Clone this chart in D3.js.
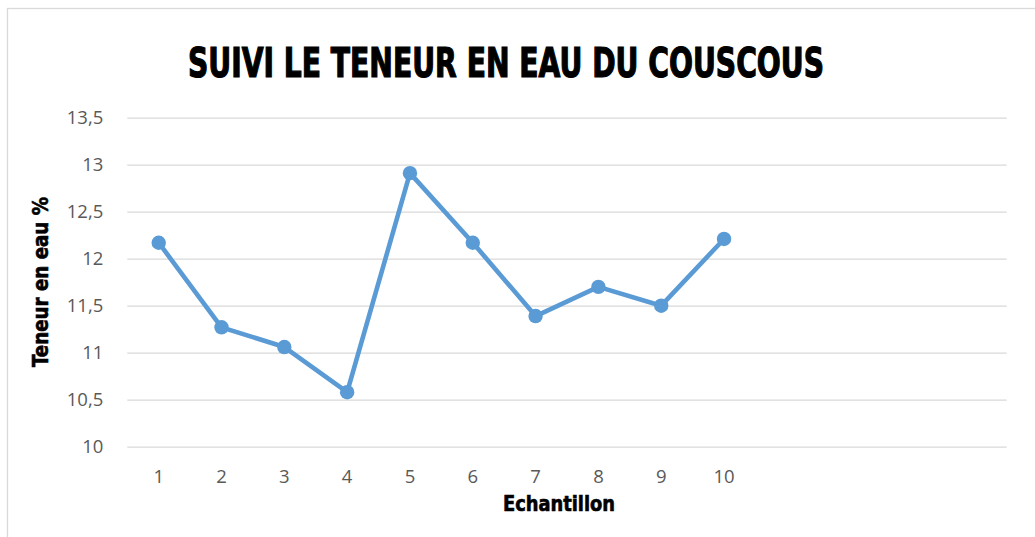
<!DOCTYPE html>
<html>
<head>
<meta charset="utf-8">
<script src="https://cdn.jsdelivr.net/npm/d3@7"></script>
<style>
html,body{margin:0;padding:0;background:#fff;}
svg{display:block;}
</style>
</head>
<body>
<svg id="chart" width="1035" height="537"></svg>
<script>
// ---- data ----
const categories = ["1","2","3","4","5","6","7","8","9","10"];
const emptySlots = ["_11","_12","_13","_14"]; // unlabeled category slots on the axis
const values = [12.17, 11.27, 11.06, 10.58, 12.91, 12.17, 11.39, 11.70, 11.50, 12.21];
const yTicks = [10, 10.5, 11, 11.5, 12, 12.5, 13, 13.5];
const title = "SUIVI LE TENEUR EN EAU DU COUSCOUS";
const yTitle = "Teneur en eau %";
const xTitle = "Echantillon";

// ---- layout ----
const svg = d3.select("#chart");
const W = 1035, H = 537;
const plot = {left: 127.3, right: 1006.7, top: 117.7, bottom: 446.7};
const heavy = "'DejaVu Sans Condensed','DejaVu Sans',sans-serif";
const light = "'Open Sans','Liberation Sans',sans-serif";

svg.append("rect").attr("x", 7.5).attr("y", 8.5).attr("width", W).attr("height", H)
  .attr("fill", "#fff").attr("stroke", "#D9D9D9").attr("stroke-width", 1.3);

const x = d3.scaleBand().domain(categories.concat(emptySlots)).range([plot.left, plot.right]).padding(0);
const y = d3.scaleLinear().domain([10, 13.5]).range([plot.bottom, plot.top]);
const cx = d => x(d) + x.bandwidth() / 2;

// gridlines
const yAxis = d3.axisLeft(y).tickValues(yTicks)
  .tickSize(-(plot.right - plot.left)).tickPadding(24)
  .tickFormat(d => String(d).replace(".", ","));
const gy = svg.append("g").attr("transform", `translate(${plot.left},0)`).call(yAxis);
gy.select(".domain").remove();
gy.selectAll(".tick line").attr("stroke", "#D9D9D9").attr("stroke-width", 1.3);
gy.selectAll(".tick text").attr("fill", "#595959").style("font-family", light).style("font-size", "18.5px");

// x axis labels
const xAxis = d3.axisBottom(x).tickSize(0).tickPadding(23)
  .tickFormat(d => categories.includes(d) ? d : "");
const gx = svg.append("g").attr("transform", `translate(0,${plot.bottom})`).call(xAxis);
gx.select(".domain").remove();
gx.selectAll(".tick text").attr("fill", "#595959").style("font-family", light).style("font-size", "18.5px");

// line
const line = d3.line().x((d, i) => cx(categories[i])).y(d => y(d));
svg.append("path").datum(values).attr("d", line)
  .attr("fill", "none").attr("stroke", "#5B9BD5").attr("stroke-width", 4.6)
  .attr("stroke-linejoin", "round");
svg.selectAll("circle.pt").data(values).enter().append("circle")
  .attr("class", "pt").attr("cx", (d, i) => cx(categories[i])).attr("cy", d => y(d))
  .attr("r", 7.2).attr("fill", "#5B9BD5");

// titles
svg.append("text").attr("x", 506).attr("y", 77).attr("text-anchor", "middle")
  .attr("textLength", 636).attr("lengthAdjust", "spacingAndGlyphs")
  .style("font-family", heavy).style("font-weight", 900).style("font-size", "40px")
  .attr("fill", "#000").attr("stroke", "#000").attr("stroke-width", 1.2).text(title);

svg.append("text").attr("transform", "translate(48,282) rotate(-90)").attr("text-anchor", "middle")
  .attr("textLength", 170).attr("lengthAdjust", "spacingAndGlyphs")
  .style("font-family", heavy).style("font-weight", 900).style("font-size", "21px")
  .attr("fill", "#000").attr("stroke", "#000").attr("stroke-width", 0.6).text(yTitle);

svg.append("text").attr("x", 559).attr("y", 511).attr("text-anchor", "middle")
  .attr("textLength", 112).attr("lengthAdjust", "spacingAndGlyphs")
  .style("font-family", heavy).style("font-weight", 900).style("font-size", "21px")
  .attr("fill", "#000").attr("stroke", "#000").attr("stroke-width", 0.6).text(xTitle);
</script>
</body>
</html>
